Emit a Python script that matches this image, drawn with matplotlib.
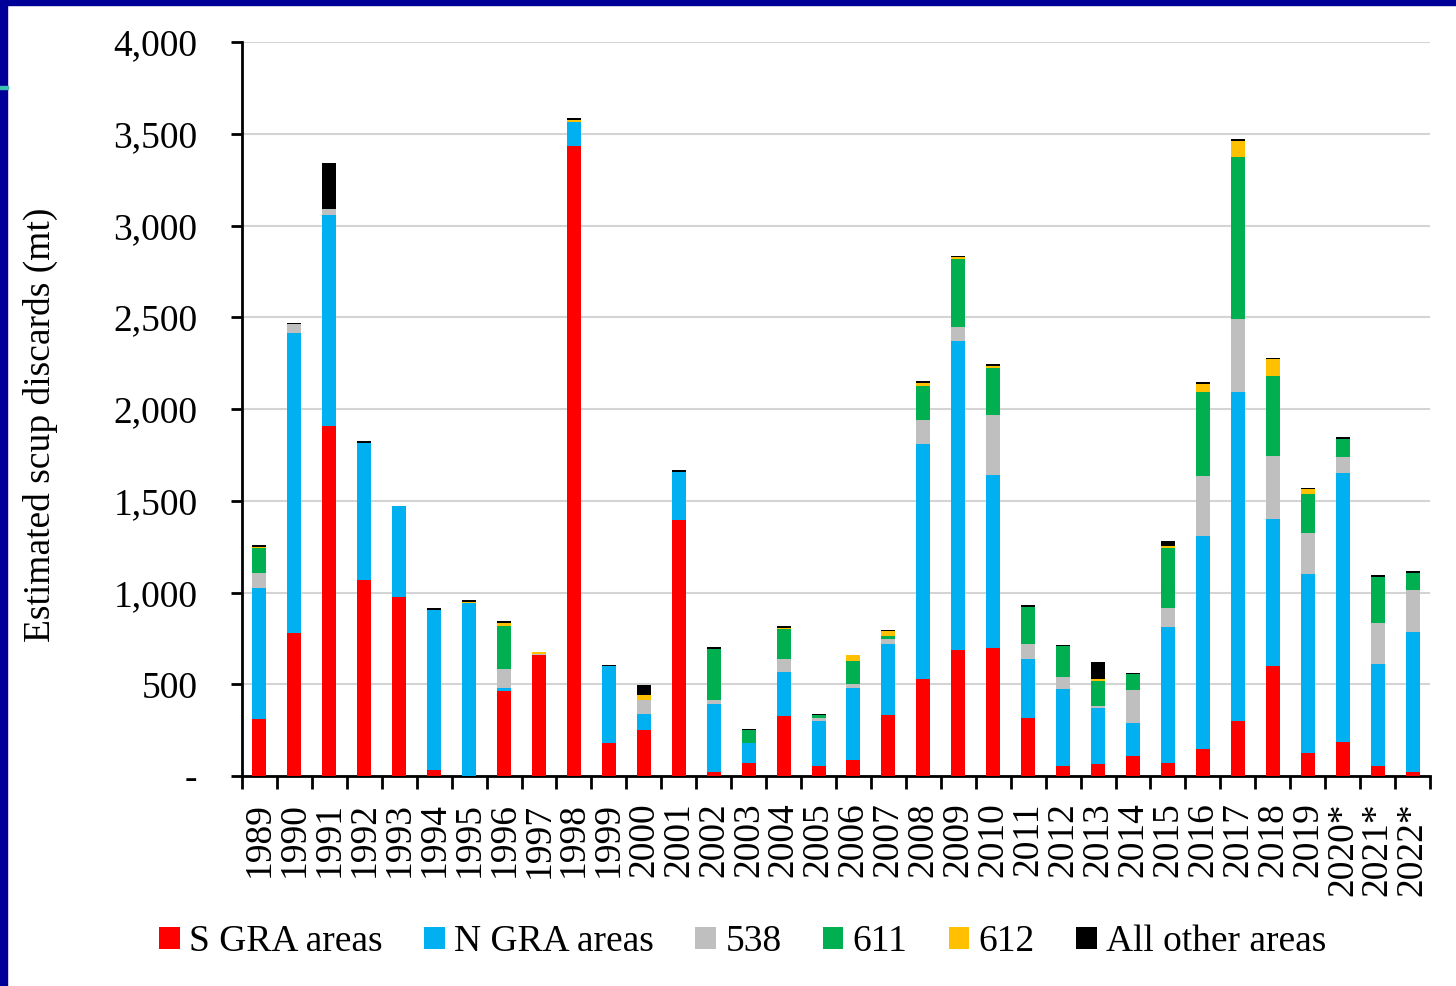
import numpy as np
import matplotlib.pyplot as plt
from matplotlib.patches import Rectangle
from matplotlib.ticker import FuncFormatter

# -------------------------------
# DATA (mt)
# -------------------------------

years = ["1989", "1990", "1991", "1992", "1993", "1994", "1995", "1996",
         "1997", "1998", "1999", "2000", "2001", "2002", "2003", "2004",
         "2005", "2006", "2007", "2008", "2009", "2010", "2011", "2012",
         "2013", "2014", "2015", "2016", "2017", "2018", "2019", "2020*",
         "2021*", "2022*"]

s_gra = [310, 777, 1906, 1068, 978, 33, 0, 465, 659, 3434, 182, 250, 1396,
         24, 69, 326, 52, 85, 331, 530, 689, 698, 314, 56, 65, 107, 73, 149,
         298, 599, 124, 184, 57, 23]
n_gra = [715, 1635, 1150, 748, 496, 874, 942, 16, 0, 130, 418, 90, 260, 368,
         111, 241, 248, 392, 391, 1280, 1682, 943, 323, 416, 308, 181, 741,
         1161, 1796, 803, 975, 1468, 551, 762]
area_538 = [83, 50, 33, 0, 0, 0, 0, 100, 4, 0, 0, 76, 0, 24, 0, 73, 14, 24,
            24, 131, 74, 329, 85, 66, 8, 182, 99, 326, 395, 341, 227, 85, 225,
            231]
area_611 = [134, 0, 0, 0, 0, 0, 0, 236, 0, 0, 0, 0, 0, 276, 70, 161, 19, 125,
            16, 184, 375, 256, 201, 170, 135, 86, 327, 458, 885, 436, 209, 101,
            252, 92]
area_612 = [8, 0, 0, 0, 0, 0, 7, 15, 11, 12, 0, 26, 0, 0, 0, 7, 0, 33, 26, 14,
            8, 10, 0, 0, 14, 0, 16, 42, 85, 94, 27, 0, 0, 0]
other = [9, 7, 251, 10, 0, 9, 8, 11, 0, 12, 7, 56, 12, 10, 7, 9, 7, 0, 8, 12,
         8, 10, 10, 8, 91, 8, 26, 9, 10, 7, 9, 9, 9, 11]

series = [
    ("S GRA areas", s_gra, "#FF0000"),
    ("N GRA areas", n_gra, "#00B0F0"),
    ("538", area_538, "#BFBFBF"),
    ("611", area_611, "#00B050"),
    ("612", area_612, "#FFC000"),
    ("All other areas", other, "#000000"),
]

# -------------------------------
# PLOT
# -------------------------------

plt.rcParams["font.family"] = ["Liberation Serif", "DejaVu Serif"]
FS = 27

fig = plt.figure(figsize=(14.56, 9.86), dpi=100)
ax = fig.add_axes([242 / 1456, 1 - 776 / 986, (1430 - 242) / 1456, (776 - 42) / 986])

x = np.arange(len(years))
bottom = np.zeros(len(years))
for name, vals, col in series:
    vals = np.array(vals, dtype=float)
    ax.bar(x, vals, width=0.4, bottom=bottom, color=col, label=name,
           edgecolor="none", zorder=3)
    bottom += vals

ax.set_xlim(-0.5, len(years) - 0.5)
ax.set_ylim(0, 4000)
ax.set_yticks(np.arange(0, 4001, 500))
ax.yaxis.set_major_formatter(FuncFormatter(lambda v, p: "-" if v == 0 else f"{int(v):,}"))
ax.grid(axis="y", color="#D4D4D4", lw=1.5, zorder=0)

# year labels at bar centres, tick marks on category boundaries
ax.set_xticks(x)
ax.set_xticklabels(years, rotation=90, va="top", ha="center")
ax.set_xticks(np.arange(-0.5, len(years)), minor=True)
ax.tick_params(axis="x", which="major", length=0, pad=19, labelsize=FS)
ax.tick_params(axis="x", which="minor", length=9, width=2, direction="out")
ax.tick_params(axis="y", length=8, width=2, pad=24, labelsize=FS)

for s in ["top", "right"]:
    ax.spines[s].set_visible(False)
for s in ["left", "bottom"]:
    ax.spines[s].set_linewidth(2)

fig.text(40 / 1456, 1 - 425 / 986, "Estimated scup discards (mt)",
         rotation=90, ha="center", va="center", fontsize=FS)

fig.legend(loc="center", bbox_to_anchor=(743 / 1456, 1 - 942 / 986), ncol=6,
           frameon=False, fontsize=FS, handlelength=0.55, handleheight=0.55,
           handletextpad=0.25, columnspacing=1.1)

# slide frame
fig.patches.append(Rectangle((0, 1 - 5 / 986), 1, 5 / 986, transform=fig.transFigure,
                             color="#000099", zorder=10))
fig.patches.append(Rectangle((0, 0), 7 / 1456, 1, transform=fig.transFigure,
                             color="#000099", zorder=10))
fig.patches.append(Rectangle((0, 1 - 89 / 986), 8 / 1456, 3 / 986,
                             transform=fig.transFigure, color="#3FBFB0", zorder=11))

fig.savefig("out.png", dpi=100)
